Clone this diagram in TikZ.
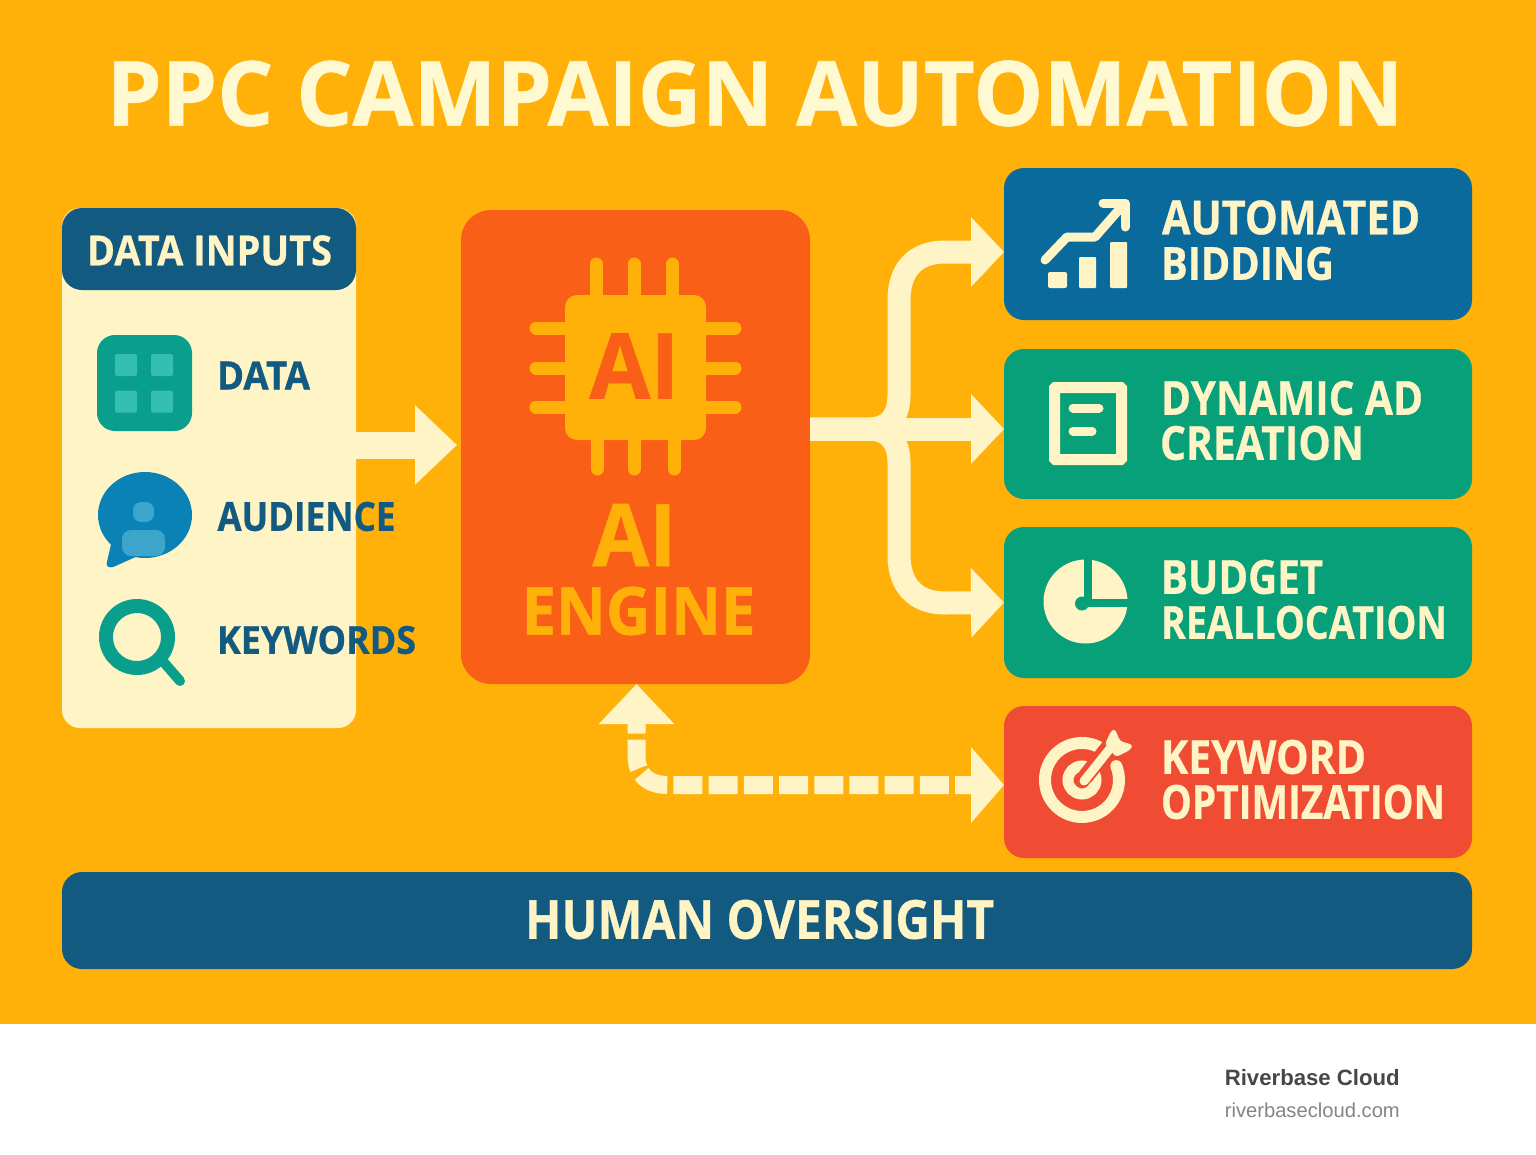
\documentclass[tikz,border=0pt]{standalone}
\usepackage{graphicx}
\usepackage{fontspec}
\setmainfont{Open Sans}
\newfontfamily\footfont{Liberation Sans}
\usetikzlibrary{arrows.meta,calc}
\definecolor{bgorange}{HTML}{FFB10A}
\definecolor{cream}{HTML}{FFF4C6}
\definecolor{titlecream}{HTML}{FFF9D2}
\definecolor{navy}{HTML}{125A80}
\definecolor{bluebox}{HTML}{0B6A9C}
\definecolor{greenbox}{HTML}{07A078}
\definecolor{redbox}{HTML}{F04B33}
\definecolor{engine}{HTML}{F95F17}
\definecolor{teal}{HTML}{0A9E8C}
\definecolor{tealsoft}{HTML}{35BFB4}
\definecolor{bubble}{HTML}{0A82B5}
\definecolor{bubblesoft}{HTML}{3BA5CC}
% scale a text to the exact extent it has in the picture
\newcommand{\fitw}[3]{\resizebox{#1pt}{#2pt}{\bfseries\addfontfeature{FakeBold=0.7}#3}}
\tikzset{
  panel/.style={draw=none,rounded corners=#1,inner sep=0pt,outer sep=0pt},
  lbl/.style={inner sep=0pt,outer sep=0pt,anchor=west},
  flow/.style={draw=cream,line width=23pt,line cap=butt,
    -{Triangle[width=68pt,length=33pt]}},
  feedback/.style={draw=cream,line width=18pt,line cap=butt,
    dash pattern=on 29pt off 6.2pt,dash phase=17pt,
    {Triangle[width=73pt,length=40pt]}-{Triangle[width=74pt,length=33pt]}},
  pin/.style={draw=bgorange,line width=13pt,line cap=round},
  iconline/.style={draw=cream,line cap=round,line join=round},
}
\begin{document}
\begin{tikzpicture}[x=1pt,y=-1pt]
\useasboundingbox (0,0) rectangle (1536,1154);
\fill[white] (0,0) rectangle (1536,1154);
\fill[bgorange] (0,0) rectangle (1536,1024);

% title
\node[inner sep=0pt,text=titlecream] (title) at (755,93.5) {\fitw{1297}{65}{PPC CAMPAIGN AUTOMATION}};

% data inputs panel
\node[panel=18pt,fill=cream,minimum width=294pt,minimum height=520pt] (inputs) at (209,468) {};
\node[panel=20pt,fill=navy,minimum width=294pt,minimum height=82pt] (inputshead) at (209,249) {};
\node[inner sep=0pt,text=cream] (inputstitle) at (209.5,250.5) {\fitw{245}{30}{DATA INPUTS}};

% data icon
\node[panel=18pt,fill=teal,minimum width=95pt,minimum height=96pt] (iconData) at (144.5,383) {};
\foreach \cx/\cy in {126/365,162/365,126/401.5,162/401.5}
  \fill[tealsoft,rounded corners=2pt] (\cx-11,\cy-11) rectangle (\cx+11,\cy+11);
\node[lbl,text=navy] (lblData) at (217,375.5) {\fitw{93}{28}{DATA}};

% audience icon
\fill[bubble] (145,515) ellipse [x radius=47pt,y radius=43pt];
\fill[bubble,rounded corners=3pt] (112,540) -- (106,566) -- (111,568) -- (140,555) -- cycle;
\fill[bubblesoft,rounded corners=8pt] (133,502) rectangle (154,522);
\fill[bubblesoft,rounded corners=9pt] (122,530) rectangle (165,556);
\node[lbl,text=navy] (lblAudience) at (217.5,516.5) {\fitw{178}{29}{AUDIENCE}};

% keywords icon
\draw[teal,line width=14pt] (137,637) circle [radius=31pt];
\draw[teal,line width=10pt,line cap=round] (161,659) -- (180,681);
\node[lbl,text=navy] (lblKeywords) at (217,640) {\fitw{199}{28}{KEYWORDS}};

% engine
\node[panel=30pt,fill=engine,minimum width=349pt,minimum height=474pt] (eng) at (635.5,447) {};
\foreach \cx/\cb in {596/597.5,634/634,672.5/674} {
  \draw[pin] (\cx,264) -- (\cx,300);
  \draw[pin] (\cb,435) -- (\cb,469);
}
\foreach \cy in {328,368,407} {
  \draw[pin] (536,\cy) -- (570,\cy);
  \draw[pin] (701,\cy) -- (735,\cy);
}
\node[panel=12pt,fill=bgorange,minimum width=141pt,minimum height=145pt] (chip) at (635.5,367.5) {};
\node[inner sep=0pt,text=engine] (chiptext) at (634.5,366) {\fitw{90}{65}{AI}};
\node[inner sep=0pt,text=bgorange] (engtextA) at (634.5,535) {\fitw{84}{62}{AI}};
\node[inner sep=0pt,text=bgorange] (engtextB) at (638.5,611) {\fitw{234}{48}{ENGINE}};

% output boxes
\node[panel=20pt,fill=bluebox,minimum width=468pt,minimum height=152pt] (b1) at (1238,244) {};
\node[panel=20pt,fill=greenbox,minimum width=468pt,minimum height=150pt] (b2) at (1238,424) {};
\node[panel=20pt,fill=greenbox,minimum width=468pt,minimum height=151pt] (b3) at (1238,602.5) {};
\node[panel=20pt,fill=redbox,minimum width=468pt,minimum height=152pt] (b4) at (1238,782) {};

\node[lbl,text=cream] (t1a) at (1162,217.5) {\fitw{258}{34}{AUTOMATED}};
\node[lbl,text=cream] (t1b) at (1161,263.5) {\fitw{173}{33}{BIDDING}};
\node[lbl,text=cream] (t2a) at (1161,398) {\fitw{262}{34}{DYNAMIC AD}};
\node[lbl,text=cream] (t2b) at (1160,443) {\fitw{204}{34}{CREATION}};
\node[lbl,text=cream] (t3a) at (1161,577) {\fitw{162}{34}{BUDGET}};
\node[lbl,text=cream] (t3b) at (1161,622.5) {\fitw{286}{33}{REALLOCATION}};
\node[lbl,text=cream] (t4a) at (1161,757) {\fitw{205}{34}{KEYWORD}};
\node[lbl,text=cream] (t4b) at (1161,802) {\fitw{284}{34}{OPTIMIZATION}};

% bidding icon
\draw[iconline,line width=9pt] (1045,260) -- (1067,237) -- (1095,237) -- (1124,204);
\draw[iconline,line width=9pt] (1103,203) -- (1125,203) -- (1125,227);
\fill[cream,rounded corners=2pt] (1048,272) rectangle (1067,288);
\fill[cream,rounded corners=1pt] (1079,257) rectangle (1096,288);
\fill[cream,rounded corners=1pt] (1110,242) rectangle (1127,288);

% document icon
\draw[cream,line width=11pt,rounded corners=1pt] (1054.5,387.5) rectangle (1121.5,459.5);
\draw[iconline,line width=9pt] (1073,408) -- (1099,408);
\draw[iconline,line width=9pt] (1073,431) -- (1092,431);

% pie icon
\fill[cream] (1085.5,601.5) circle [radius=42pt];
\draw[greenbox,line width=8pt] (1087.5,552) -- (1087.5,603) -- (1132,603);
\fill[greenbox] (1082,603.5) circle [radius=7pt];

% target icon
\draw[cream,line width=12pt,line cap=round] (1098.2,746.7) arc[start angle=64,end angle=382,radius=37pt];
\draw[cream,line width=11pt] (1082,780) circle [radius=14pt];
\draw[redbox,line width=16pt,line cap=round] (1086,776) -- (1108,748);
\draw[cream,line width=9pt,line cap=round] (1084,781) -- (1112,746);
\fill[cream,rounded corners=3pt] (1105,744) -- (1111,731) -- (1115,729) -- (1120,741) -- (1133,745) -- (1130,750) -- (1116,757) -- cycle;

% human oversight
\node[panel=20pt,fill=navy,minimum width=1410pt,minimum height=97pt] (human) at (767,920.5) {};
\node[inner sep=0pt,text=cream] (humantext) at (759.5,919.5) {\fitw{469}{39}{HUMAN OVERSIGHT}};

% connectors
\draw[flow,line width=27pt,-{Triangle[width=77pt,length=42pt]}] ([yshift=23pt]inputs.east) -- ([xshift=-4pt,yshift=2pt]eng.west);
\draw[flow] ([yshift=18pt]eng.east) -- (868,429) .. controls (890,429) and (899,415) .. (899,395) -- (899,300) .. controls (899,270) and (915,252) .. (945,252) -- ([yshift=-8pt]b1.west);
\draw[flow] ([yshift=18pt]eng.east) -- ([yshift=-5pt]b2.west);
\draw[flow] ([yshift=18pt]eng.east) -- (868,429) .. controls (890,429) and (899,443) .. (899,463) -- (899,555) .. controls (899,585) and (915,603) .. (945,603) -- (b3.west);
\draw[feedback] ([xshift=1pt]eng.south) -- (636.5,755) .. controls (636.5,775) and (648,785) .. (668,785) -- ([yshift=-3pt]b4.west);

% footer
\node[inner sep=0pt,anchor=east,text=black!72] (brand) at (1400,1078) {\resizebox{175pt}{!}{\bfseries\footfont Riverbase Cloud}};
\node[inner sep=0pt,anchor=east,text=black!48] (site) at (1400,1110) {\resizebox{175pt}{!}{\footfont riverbasecloud.com}};
\end{tikzpicture}
\end{document}
